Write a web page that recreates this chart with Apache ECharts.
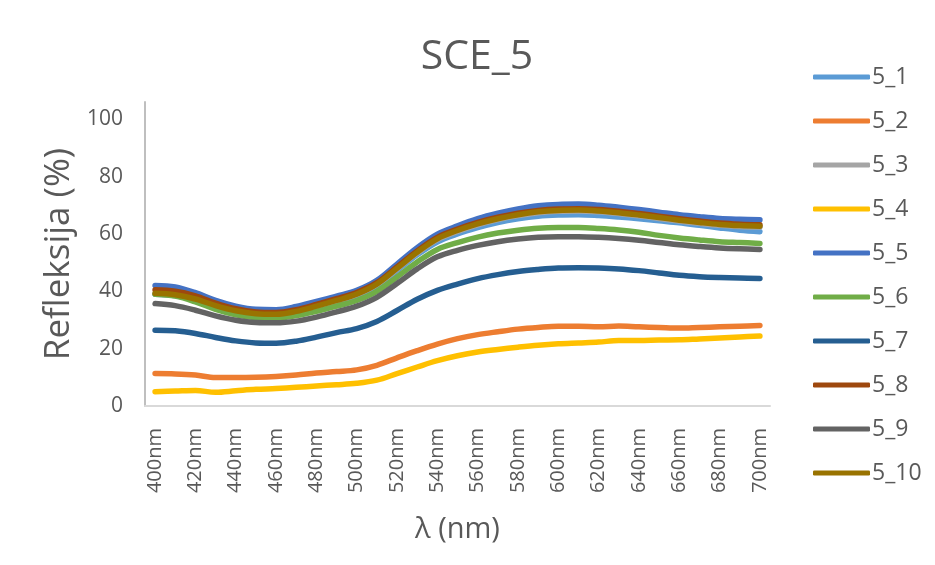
<!DOCTYPE html>
<html>
<head>
<meta charset="utf-8">
<script src="https://cdn.jsdelivr.net/npm/echarts@6/dist/echarts.min.js"></script>
<style>
  html, body { margin: 0; padding: 0; background: #fff; }
  #chart { width: 935px; height: 565px; }
</style>
</head>
<body>
<div id="chart"></div>
<script>
// Wavelength categories, 400–700 nm in 10 nm steps
const wavelengths = [400, 410, 420, 430, 440, 450, 460, 470, 480, 490, 500, 510, 520, 530, 540, 550,
  560, 570, 580, 590, 600, 610, 620, 630, 640, 650, 660, 670, 680, 690, 700];
const categories = wavelengths.map(w => w + 'nm');

// Reflectance (%) of each sample
const s5_1 = [39.0, 38.5, 37.0, 34.7, 32.9, 31.9, 31.7, 32.6, 34.4, 36.3, 38.4, 41.8, 47.2, 52.7, 57.2, 60.0,
  62.2, 64.0, 65.3, 66.2, 66.6, 66.7, 66.4, 65.9, 65.3, 64.6, 63.9, 63.0, 62.1, 61.3, 60.8];
const s5_2 = [11.3, 11.2, 10.8, 9.9, 9.9, 10.0, 10.3, 10.8, 11.5, 12.0, 12.6, 14.2, 16.8, 19.3, 21.6, 23.5,
  24.9, 25.9, 26.8, 27.4, 27.8, 27.8, 27.6, 27.9, 27.6, 27.4, 27.2, 27.4, 27.6, 27.8, 28.1];
const s5_3 = [39.0, 38.5, 37.0, 34.8, 33.0, 32.0, 31.8, 32.8, 34.6, 36.6, 38.8, 42.3, 47.7, 53.3, 58.0, 60.9,
  63.2, 65.0, 66.4, 67.4, 67.9, 68.0, 67.7, 67.1, 66.3, 65.4, 64.5, 63.7, 63.0, 62.6, 62.4];
const s5_4 = [5.0, 5.2, 5.4, 4.8, 5.3, 5.8, 6.1, 6.5, 7.0, 7.4, 7.9, 9.0, 11.3, 13.6, 15.8, 17.5,
  18.8, 19.7, 20.5, 21.2, 21.7, 22.0, 22.3, 22.8, 22.8, 23.0, 23.1, 23.4, 23.7, 24.1, 24.4];
const s5_5 = [42.0, 41.5, 39.5, 36.8, 34.8, 33.7, 33.6, 34.7, 36.5, 38.3, 40.3, 43.8, 49.5, 55.2, 59.9, 62.8,
  65.3, 67.2, 68.7, 69.8, 70.3, 70.4, 70.0, 69.3, 68.5, 67.6, 66.7, 66.0, 65.4, 65.1, 64.9];
const s5_6 = [39.0, 38.3, 36.3, 33.7, 31.8, 30.8, 30.6, 31.5, 33.0, 34.8, 36.8, 40.0, 45.0, 50.2, 54.6, 57.0,
  58.9, 60.3, 61.3, 62.0, 62.2, 62.2, 61.9, 61.4, 60.6, 59.5, 58.6, 57.9, 57.3, 57.0, 56.7];
const s5_7 = [26.4, 26.2, 25.3, 23.9, 22.7, 22.0, 21.9, 22.6, 24.0, 25.6, 27.0, 29.5, 33.3, 37.2, 40.3, 42.5,
  44.4, 45.8, 46.9, 47.6, 48.1, 48.2, 48.1, 47.8, 47.2, 46.4, 45.6, 45.1, 44.8, 44.6, 44.5];
const s5_8 = [40.5, 40.0, 38.4, 35.9, 33.9, 32.8, 32.6, 33.6, 35.4, 37.4, 39.6, 43.0, 48.5, 54.1, 58.8, 61.7,
  64.0, 65.8, 67.2, 68.2, 68.7, 68.8, 68.5, 67.9, 67.1, 66.2, 65.3, 64.5, 63.8, 63.4, 63.2];
const s5_9 = [35.7, 35.0, 33.4, 31.4, 29.9, 29.1, 29.0, 29.6, 31.0, 32.8, 34.8, 37.9, 42.7, 47.8, 52.0, 54.3,
  56.0, 57.3, 58.2, 58.8, 59.0, 59.0, 58.8, 58.4, 57.8, 57.0, 56.2, 55.6, 55.1, 54.8, 54.6];
const s5_10 = [39.3, 38.8, 37.3, 35.0, 33.2, 32.2, 32.0, 33.0, 34.8, 36.8, 39.0, 42.5, 48.0, 53.6, 58.3, 61.2,
  63.5, 65.3, 66.7, 67.7, 68.2, 68.3, 68.0, 67.4, 66.6, 65.7, 64.8, 64.0, 63.3, 62.9, 62.7];

const seriesNames = ['5_1', '5_2', '5_3', '5_4', '5_5', '5_6', '5_7', '5_8', '5_9', '5_10'];
const seriesValues = [s5_1, s5_2, s5_3, s5_4, s5_5, s5_6, s5_7, s5_8, s5_9, s5_10];
const palette = ['#5B9BD5', '#ED7D31', '#A5A5A5', '#FFC000', '#4472C4', '#70AD47',
  '#255E91', '#9E480E', '#636363', '#997300'];

const textColor = '#595959';
const fontFamily = '"Open Sans", "Liberation Sans", sans-serif';

const chart = echarts.init(document.getElementById('chart'), null, { renderer: 'canvas' });

chart.setOption({
  backgroundColor: '#ffffff',
  animation: false,
  color: palette,
  title: {
    text: 'SCE_5',
    left: 472,
    top: 32,
    textAlign: 'center',
    textStyle: { fontFamily, fontSize: 41, fontWeight: 'normal', color: textColor }
  },
  legend: {
    orient: 'vertical',
    left: 808,
    top: 60,
    icon: 'roundRect',
    itemWidth: 57,
    itemHeight: 5,
    itemGap: 20,
    textStyle: { fontFamily, fontSize: 23, color: textColor, lineHeight: 24, padding: [0, 0, 0, -3] },
    data: seriesNames
  },
  grid: { left: 145, right: 165, top: 102, bottom: 159, containLabel: false },
  xAxis: {
    type: 'category',
    data: categories,
    boundaryGap: true,
    name: 'λ (nm)',
    nameLocation: 'middle',
    nameGap: 109,
    nameTextStyle: { fontFamily, fontSize: 29, color: textColor },
    axisLine: { lineStyle: { color: '#D9D9D9', width: 2 } },
    axisTick: { show: false },
    axisLabel: {
      interval: 1,
      rotate: 90,
      margin: 22,
      fontFamily,
      fontSize: 20,
      color: textColor
    },
    splitLine: { show: false }
  },
  yAxis: {
    type: 'value',
    min: 0,
    max: 106,
    interval: 20,
    name: 'Refleksija (%)',
    nameLocation: 'middle',
    nameGap: 63,
    nameTextStyle: { fontFamily, fontSize: 35, color: textColor },
    axisLine: { show: true, lineStyle: { color: '#BFBFBF', width: 2 } },
    axisTick: { show: false },
    axisLabel: {
      margin: 22,
      fontFamily,
      fontSize: 21,
      color: textColor,
      formatter: v => (v % 20 === 0 ? String(v) : '')
    },
    splitLine: { show: false }
  },
  series: seriesNames.map((name, i) => ({
    name,
    type: 'line',
    data: seriesValues[i],
    smooth: 0.35,
    symbol: 'none',
    lineStyle: { width: 5.5, cap: 'round', join: 'round', color: palette[i] },
    itemStyle: { color: palette[i] }
  }))
});
</script>
</body>
</html>
